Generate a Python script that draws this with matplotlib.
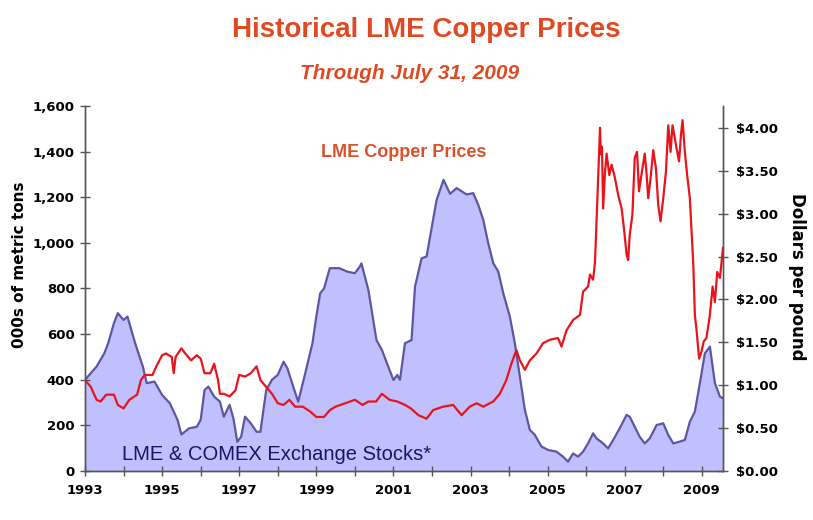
import matplotlib
matplotlib.use("Agg")
import matplotlib.pyplot as plt
from matplotlib.ticker import FuncFormatter, MultipleLocator

# LME & COMEX exchange stocks, 000s of metric tons
stock_years = [1993.0, 1993.3, 1993.5, 1993.6, 1993.75, 1993.85, 1994.0, 1994.1, 1994.3, 1994.5,
               1994.6, 1994.8, 1995.0, 1995.2, 1995.4, 1995.5, 1995.7, 1995.9, 1996.0, 1996.1,
               1996.2, 1996.35, 1996.5, 1996.6, 1996.75, 1996.85, 1996.95, 1997.05, 1997.15, 1997.3,
               1997.45, 1997.55, 1997.7, 1997.85, 1998.0, 1998.15, 1998.25, 1998.4, 1998.53, 1998.7,
               1998.9, 1999.0, 1999.1, 1999.2, 1999.35, 1999.6, 1999.8, 2000.0, 2000.13, 2000.17,
               2000.35, 2000.56, 2000.7, 2000.9, 2001.0, 2001.1, 2001.17, 2001.3, 2001.47, 2001.56,
               2001.73, 2001.86, 2002.12, 2002.3, 2002.47, 2002.64, 2002.9, 2003.07, 2003.2, 2003.33,
               2003.46, 2003.59, 2003.72, 2003.85, 2004.02, 2004.15, 2004.28, 2004.41, 2004.54, 2004.67,
               2004.84, 2005.02, 2005.23, 2005.4, 2005.53, 2005.66, 2005.79, 2005.92, 2006.05, 2006.18,
               2006.27, 2006.44, 2006.57, 2006.7, 2006.87, 2007.05, 2007.13, 2007.26, 2007.39, 2007.52,
               2007.65, 2007.83, 2008.0, 2008.13, 2008.26, 2008.43, 2008.56, 2008.69, 2008.82, 2008.95,
               2009.08, 2009.21, 2009.34, 2009.47, 2009.55]
stock_vals = [400, 458, 516, 560, 648, 692, 662, 677, 560, 458,
              385, 392, 333, 297, 224, 160, 187, 194, 224, 355,
              370, 326, 304, 238, 290, 230, 128, 150, 238, 209,
              172, 172, 355, 400, 421, 479, 450, 370, 304, 420,
              560, 677, 779, 800, 889, 889, 874, 867, 896, 910,
              794, 574, 531, 443, 399, 421, 400, 560, 574, 808,
              932, 940, 1188, 1276, 1215, 1240, 1212, 1218, 1167, 1101,
              998, 911, 874, 779, 677, 560, 414, 268, 180, 158,
              107, 92, 85, 63, 41, 77, 63, 85, 121, 165,
              143, 121, 99, 136, 187, 246, 238, 194, 150, 121,
              143, 202, 209, 158, 121, 129, 136, 216, 260, 385,
              516, 545, 385, 326, 319]

# LME copper price, dollars per pound
price_years = [1993.0, 1993.15, 1993.3, 1993.4, 1993.55, 1993.75, 1993.85, 1994.0, 1994.15, 1994.35,
               1994.45, 1994.55, 1994.75, 1994.85, 1995.0, 1995.1, 1995.25, 1995.3, 1995.35, 1995.5,
               1995.6, 1995.75, 1995.9, 1996.0, 1996.1, 1996.25, 1996.35, 1996.45, 1996.5, 1996.6,
               1996.75, 1996.9, 1997.0, 1997.15, 1997.3, 1997.45, 1997.55, 1997.7, 1997.85, 1998.0,
               1998.15, 1998.3, 1998.45, 1998.65, 1998.85, 1999.0, 1999.2, 1999.35, 1999.5, 1999.75,
               2000.0, 2000.2, 2000.35, 2000.55, 2000.7, 2000.9, 2001.1, 2001.3, 2001.45, 2001.65,
               2001.86, 2002.03, 2002.29, 2002.55, 2002.77, 2002.98, 2003.16, 2003.33, 2003.59, 2003.76,
               2003.93, 2004.06, 2004.19, 2004.28, 2004.41, 2004.54, 2004.71, 2004.88, 2005.06, 2005.27,
               2005.36, 2005.49, 2005.66, 2005.84, 2005.92, 2006.05, 2006.1, 2006.18, 2006.23, 2006.27,
               2006.31, 2006.36, 2006.38, 2006.41, 2006.44, 2006.49, 2006.53, 2006.6, 2006.66, 2006.74,
               2006.83, 2006.92, 2006.98, 2007.05, 2007.09, 2007.13, 2007.2, 2007.26, 2007.32, 2007.37,
               2007.44, 2007.52, 2007.57, 2007.61, 2007.67, 2007.74, 2007.81, 2007.87, 2007.93, 2008.0,
               2008.07, 2008.13, 2008.19, 2008.24, 2008.33, 2008.41, 2008.46, 2008.5, 2008.56, 2008.62,
               2008.69, 2008.78, 2008.82, 2008.86, 2008.93, 2008.99, 2009.05, 2009.12, 2009.21, 2009.28,
               2009.34, 2009.4, 2009.47, 2009.55]
price_vals = [1.06, 0.98, 0.83, 0.81, 0.89, 0.89, 0.77, 0.73, 0.83, 0.89,
              1.06, 1.12, 1.12, 1.22, 1.35, 1.37, 1.33, 1.14, 1.33, 1.43,
              1.37, 1.29, 1.35, 1.31, 1.14, 1.14, 1.25, 1.06, 0.90, 0.90,
              0.87, 0.94, 1.12, 1.10, 1.14, 1.22, 1.06, 0.98, 0.90, 0.79,
              0.77, 0.83, 0.75, 0.75, 0.69, 0.63, 0.63, 0.71, 0.75, 0.79,
              0.83, 0.77, 0.81, 0.81, 0.90, 0.83, 0.81, 0.77, 0.73, 0.65,
              0.61, 0.71, 0.75, 0.77, 0.65, 0.75, 0.79, 0.75, 0.81, 0.90,
              1.06, 1.25, 1.41, 1.29, 1.18, 1.29, 1.37, 1.49, 1.53, 1.55,
              1.45, 1.64, 1.76, 1.82, 2.09, 2.15, 2.29, 2.23, 2.44, 2.91,
              3.37, 4.00, 3.69, 3.78, 3.06, 3.49, 3.70, 3.45, 3.57, 3.43,
              3.22, 3.06, 2.83, 2.52, 2.46, 2.75, 2.99, 3.65, 3.72, 3.26,
              3.47, 3.70, 3.45, 3.18, 3.41, 3.74, 3.53, 3.10, 2.91, 3.18,
              3.49, 4.03, 3.72, 4.03, 3.80, 3.61, 3.92, 4.09, 3.72, 3.45,
              3.18, 2.40, 1.82, 1.66, 1.31, 1.39, 1.51, 1.55, 1.82, 2.15,
              1.97, 2.32, 2.25, 2.60]

x_labels = [1993, 1995, 1997, 1999, 2001, 2003, 2005, 2007, 2009]

fig = plt.figure(figsize=(8.13, 5.2), dpi=100)
ax = fig.add_axes([0.1046, 0.0942, 0.7847, 0.702])
ax2 = ax.twinx()

ax.fill_between(stock_years, stock_vals, 0, color="#c0c0ff", lw=0)
ax.plot(stock_years, stock_vals, color="#5e55a3", lw=1.6)
ax2.plot(price_years, price_vals, color="#e8141b", lw=1.6)

ax.set_xlim(1993.0, 2009.55)
ax.set_ylim(0, 1600)
ax2.set_ylim(0, 4.255)

ax.set_xticks(x_labels)
ax.xaxis.set_minor_locator(MultipleLocator(1))
ax.yaxis.set_major_locator(MultipleLocator(200))
ax2.yaxis.set_major_locator(MultipleLocator(0.5))
ax.yaxis.set_major_formatter(FuncFormatter(lambda v, p: f"{int(v):,}"))
ax2.yaxis.set_major_formatter(FuncFormatter(lambda v, p: f"${v:.2f}"))

for a in (ax, ax2):
    a.spines["top"].set_visible(False)
    for s in ("left", "right", "bottom"):
        a.spines[s].set_color("#555555")
        a.spines[s].set_linewidth(1.0)
    a.tick_params(which="both", direction="inout", length=7, width=1, color="#555555",
                  labelsize=9.5)
for lab in ax.get_xticklabels() + ax.get_yticklabels() + ax2.get_yticklabels():
    lab.set_fontweight("bold")
ax.tick_params(axis="x", pad=6)
ax.tick_params(axis="y", pad=4)
ax2.tick_params(axis="y", pad=6)

fig.text(20 / 813, 0.491, "000s of metric tons", rotation=90, ha="center", va="center",
         fontsize=11, fontweight="bold")
fig.text(797 / 813, 0.467, "Dollars per pound", rotation=-90, ha="center", va="center",
         fontsize=12, fontweight="bold")

fig.text(426 / 813, 1 - 30 / 520, "Historical LME Copper Prices", ha="center", va="center",
         fontsize=20, fontweight="bold", color="#df4a22", family="Liberation Sans")
fig.text(410 / 813, 1 - 74 / 520, "Through July 31, 2009", ha="center", va="center",
         fontsize=15, fontweight="bold", style="italic", color="#df4a22", family="Liberation Sans")

ax.text(2001.27, 1394, "LME Copper Prices", ha="center", va="center", fontsize=13,
        fontweight="bold", color="#d9522a", family="Liberation Sans")
ax.text(1997.98, 72, "LME & COMEX Exchange Stocks*", ha="center", va="center", fontsize=14.5,
        color="#1b1464", family="Liberation Sans")

fig.savefig("out.png", dpi=100)
